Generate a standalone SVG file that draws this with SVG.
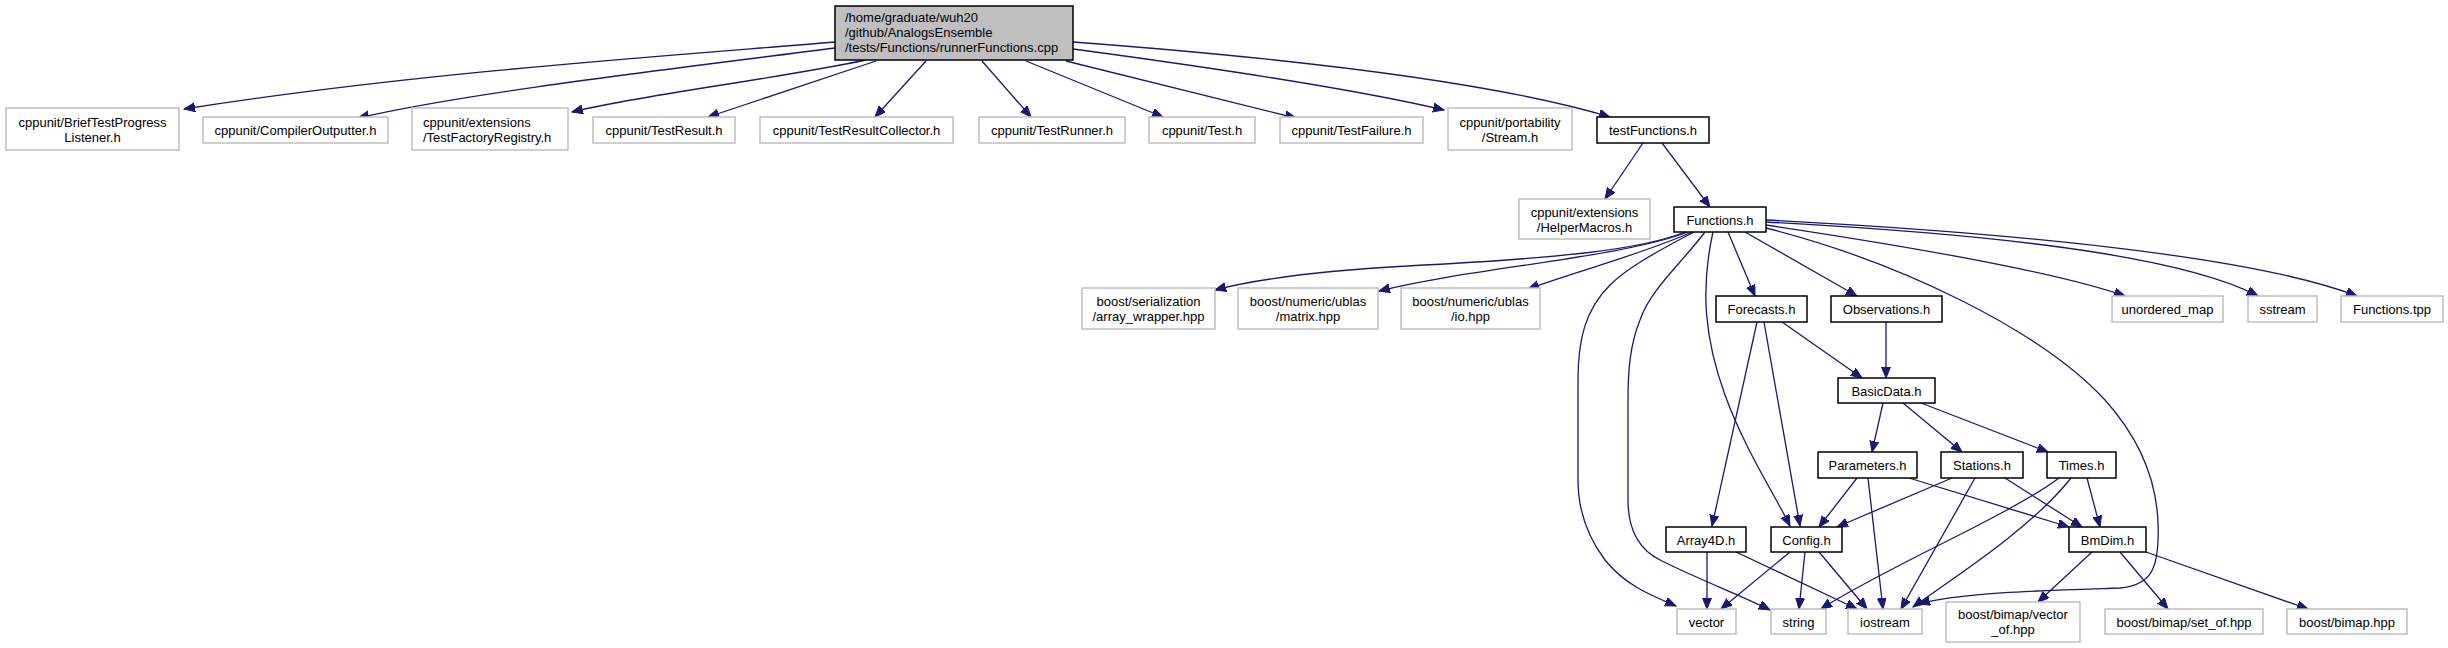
<svg xmlns="http://www.w3.org/2000/svg" width="2448" height="648" viewBox="0 0 2448 648">
<defs>
<style>
.n rect{fill:#fff;stroke:#000;stroke-width:1.5}
.g rect{fill:#fff;stroke:#bfbfbf;stroke-width:1.5}
.m rect{fill:#bfbfbf;stroke:#000;stroke-width:1.5}
text{font-family:"Liberation Sans",Arial,sans-serif;font-size:13px;fill:#000}
.c{text-anchor:middle}
#edges path{fill:none;stroke:#191970;stroke-width:1.3;marker-end:url(#arr)}
</style>
<marker id="arr" markerWidth="12" markerHeight="10" refX="11" refY="4.5" orient="auto" markerUnits="userSpaceOnUse">
<path d="M0,0 L11,4.5 L0,9 z" fill="#191970" stroke="#191970" stroke-width="1"/>
</marker>
</defs>
<rect width="2448" height="648" fill="#fff"/>
<g id="edges">
<path d="M835,42 C680,55 420,72 184,109"/>
<path d="M835,48 C680,68 470,92 358,118"/>
<path d="M866,60 C770,80 640,95 572,112"/>
<path d="M876,61 L708,117"/>
<path d="M926,61 L875,117"/>
<path d="M982,61 L1031,117"/>
<path d="M1026,61 L1163,117"/>
<path d="M1066,61 L1296,118"/>
<path d="M1073,49 C1200,66 1350,88 1444,110"/>
<path d="M1073,42 C1260,56 1480,78 1610,117"/>
<path d="M1643,143 L1605,199"/>
<path d="M1662,143 L1710,207"/>
<path d="M1685,232 C1640,250 1560,258 1407,266 C1320,271 1260,278 1215,290"/>
<path d="M1688,232 C1620,258 1470,268 1379,291"/>
<path d="M1692,232 C1640,255 1580,270 1528,289"/>
<path d="M1694,232 C1650,255 1625,270 1610,285 C1585,310 1578,340 1578,380 L1578,480 C1578,515 1590,540 1605,560 C1625,585 1650,595 1676,606"/>
<path d="M1705,232 C1680,265 1650,290 1640,320 C1630,345 1628,370 1628,400 L1628,500 C1628,530 1640,550 1660,560 C1700,580 1740,595 1770,610"/>
<path d="M1713,232 C1700,290 1705,340 1725,395 C1745,450 1775,495 1790,526"/>
<path d="M1728,232 L1755,296"/>
<path d="M1745,232 L1857,296"/>
<path d="M1766,228 C1900,262 2040,330 2105,400 C2150,450 2160,500 2158,540 C2157,570 2150,585 2120,588 C2060,590 1960,592 1919,604"/>
<path d="M1766,225 C1900,245 2050,270 2125,296"/>
<path d="M1766,222 C1950,232 2170,250 2258,296"/>
<path d="M1766,220 C2000,232 2250,255 2357,296"/>
<path d="M1757,322 L1712,526"/>
<path d="M1764,322 L1800,526"/>
<path d="M1782,322 L1862,378"/>
<path d="M1886,322 L1886,378"/>
<path d="M1883,403 L1872,452"/>
<path d="M1903,403 L1962,452"/>
<path d="M1921,403 L2048,452"/>
<path d="M1857,478 L1819,527"/>
<path d="M1868,478 L1883,609"/>
<path d="M1909,478 L2069,527"/>
<path d="M1952,478 L1837,527"/>
<path d="M1975,478 L1901,609"/>
<path d="M2005,478 L2082,527"/>
<path d="M2059,478 C2010,515 1880,570 1821,609"/>
<path d="M2071,478 C2030,530 1950,580 1913,607"/>
<path d="M2087,478 L2100,527"/>
<path d="M1707,552 L1707,609"/>
<path d="M1736,552 L1857,609"/>
<path d="M1790,552 L1721,609"/>
<path d="M1805,552 L1799,609"/>
<path d="M1819,552 L1867,609"/>
<path d="M2092,552 L2038,602"/>
<path d="M2120,552 L2168,609"/>
<path d="M2146,552 L2308,609"/>
</g>
<g id="main" class="m"><rect x="835" y="6" width="238" height="54"/>
<text x="845" y="22">/home/graduate/wuh20</text><text x="845" y="37">/github/AnalogsEnsemble</text><text x="845" y="52">/tests/Functions/runnerFunctions.cpp</text></g>
<g id="brief" class="g"><rect x="6" y="108" width="173" height="42"/>
<text class="c" x="92.5" y="127">cppunit/BriefTestProgress</text><text class="c" x="92.5" y="142">Listener.h</text></g>
<g id="compiler" class="g"><rect x="203" y="117" width="185" height="26"/><text class="c" x="295.5" y="135">cppunit/CompilerOutputter.h</text></g>
<g id="registry" class="g"><rect x="412" y="108" width="156" height="42"/>
<text x="423" y="127">cppunit/extensions</text><text x="423" y="142">/TestFactoryRegistry.h</text></g>
<g id="testresult" class="g"><rect x="593" y="117" width="142" height="26"/><text class="c" x="664" y="135">cppunit/TestResult.h</text></g>
<g id="collector" class="g"><rect x="760" y="117" width="193" height="26"/><text class="c" x="856.5" y="135">cppunit/TestResultCollector.h</text></g>
<g id="runner" class="g"><rect x="979" y="117" width="146" height="26"/><text class="c" x="1052" y="135">cppunit/TestRunner.h</text></g>
<g id="test" class="g"><rect x="1149" y="117" width="106" height="26"/><text class="c" x="1202" y="135">cppunit/Test.h</text></g>
<g id="failure" class="g"><rect x="1280" y="117" width="143" height="26"/><text class="c" x="1351.5" y="135">cppunit/TestFailure.h</text></g>
<g id="stream" class="g"><rect x="1448" y="108" width="124" height="42"/>
<text class="c" x="1510" y="127">cppunit/portability</text><text class="c" x="1510" y="142">/Stream.h</text></g>
<g id="testfunctions" class="n"><rect x="1597" y="117" width="112" height="26"/><text class="c" x="1653" y="135">testFunctions.h</text></g>
<g id="helpermacros" class="g"><rect x="1519" y="199" width="131" height="40"/>
<text class="c" x="1584.5" y="217">cppunit/extensions</text><text class="c" x="1584.5" y="232">/HelperMacros.h</text></g>
<g id="functions" class="n"><rect x="1674" y="207" width="92" height="25"/><text class="c" x="1720" y="224.5">Functions.h</text></g>
<g id="arraywrapper" class="g"><rect x="1082" y="288" width="133" height="41"/>
<text class="c" x="1148.5" y="306">boost/serialization</text><text class="c" x="1148.5" y="321">/array_wrapper.hpp</text></g>
<g id="matrix" class="g"><rect x="1238" y="288" width="140" height="41"/>
<text class="c" x="1308" y="306">boost/numeric/ublas</text><text class="c" x="1308" y="321">/matrix.hpp</text></g>
<g id="io" class="g"><rect x="1401" y="288" width="139" height="41"/>
<text class="c" x="1470.5" y="306">boost/numeric/ublas</text><text class="c" x="1470.5" y="321">/io.hpp</text></g>
<g id="forecasts" class="n"><rect x="1716" y="296" width="91" height="26"/><text class="c" x="1761.5" y="314">Forecasts.h</text></g>
<g id="observations" class="n"><rect x="1831" y="296" width="111" height="26"/><text class="c" x="1886.5" y="314">Observations.h</text></g>
<g id="unorderedmap" class="g"><rect x="2112" y="296" width="111" height="26"/><text class="c" x="2167.5" y="314">unordered_map</text></g>
<g id="sstream" class="g"><rect x="2248" y="296" width="69" height="26"/><text class="c" x="2282.5" y="314">sstream</text></g>
<g id="functionstpp" class="g"><rect x="2341" y="296" width="102" height="26"/><text class="c" x="2392" y="314">Functions.tpp</text></g>
<g id="basicdata" class="n"><rect x="1838" y="378" width="97" height="25"/><text class="c" x="1886.5" y="395.5">BasicData.h</text></g>
<g id="parameters" class="n"><rect x="1818" y="452" width="99" height="26"/><text class="c" x="1867.5" y="470">Parameters.h</text></g>
<g id="stations" class="n"><rect x="1941" y="452" width="82" height="26"/><text class="c" x="1982" y="470">Stations.h</text></g>
<g id="times" class="n"><rect x="2047" y="452" width="69" height="26"/><text class="c" x="2081.5" y="470">Times.h</text></g>
<g id="array4d" class="n"><rect x="1666" y="527" width="80" height="25"/><text class="c" x="1706" y="544.5">Array4D.h</text></g>
<g id="config" class="n"><rect x="1771" y="527" width="71" height="25"/><text class="c" x="1806.5" y="544.5">Config.h</text></g>
<g id="bmdim" class="n"><rect x="2069" y="527" width="77" height="25"/><text class="c" x="2107.5" y="544.5">BmDim.h</text></g>
<g id="vector" class="g"><rect x="1677" y="609" width="59" height="25"/><text class="c" x="1706.5" y="626.5">vector</text></g>
<g id="string" class="g"><rect x="1771" y="609" width="55" height="25"/><text class="c" x="1798.5" y="626.5">string</text></g>
<g id="iostream" class="g"><rect x="1848" y="609" width="74" height="25"/><text class="c" x="1885" y="626.5">iostream</text></g>
<g id="vectorof" class="g"><rect x="1946" y="602" width="134" height="40"/>
<text class="c" x="2013" y="619">boost/bimap/vector</text><text class="c" x="2013" y="634">_of.hpp</text></g>
<g id="setof" class="g"><rect x="2105" y="609" width="158" height="25"/><text class="c" x="2184" y="626.5">boost/bimap/set_of.hpp</text></g>
<g id="bimap" class="g"><rect x="2287" y="609" width="120" height="25"/><text class="c" x="2347" y="626.5">boost/bimap.hpp</text></g>
</svg>
